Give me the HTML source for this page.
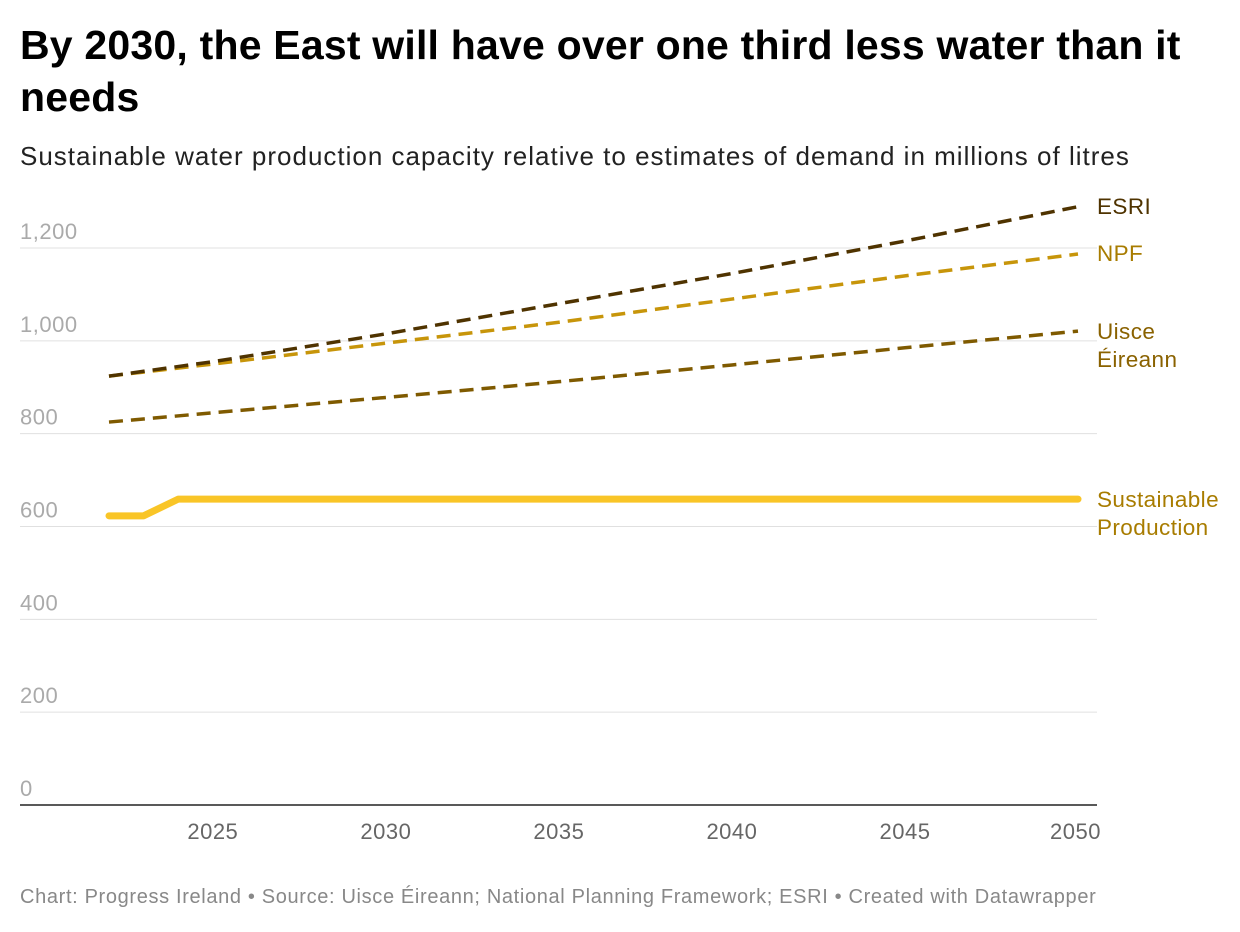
<!DOCTYPE html>
<html><head><meta charset="utf-8"><style>
body{margin:0;background:#fff;font-family:"Liberation Sans",sans-serif;width:1240px;height:932px;overflow:hidden;position:relative}
h1{position:absolute;left:20px;top:19px;margin:0;font-size:41px;letter-spacing:0.2px;line-height:52px;font-weight:bold;color:#000;width:1210px}
.sub{position:absolute;left:20px;top:141px;font-size:26px;letter-spacing:1px;color:#222;white-space:nowrap}
.foot{position:absolute;left:20px;top:886px;font-size:20px;letter-spacing:0.65px;color:#888;white-space:nowrap}
svg{position:absolute;left:0;top:0}
</style></head><body>
<h1>By 2030, the East will have over one third less water than it needs</h1>
<div class="sub">Sustainable water production capacity relative to estimates of demand in millions of litres</div>
<svg id="c" width="1240" height="932"></svg>
<div class="foot">Chart: Progress Ireland • Source: Uisce Éireann; National Planning Framework; ESRI • Created with Datawrapper</div>
<script>
const yTicks=[0,200,400,600,800,1000,1200];
const xTicks=[2025,2030,2035,2040,2045,2050];
const esriYears=[2022,2025,2030,2035,2040,2045,2050];
const esriVals=[924,955,1015,1080,1145,1215,1289];
const npfYears=[2022,2025,2030,2035,2040,2045,2050];
const npfVals=[924,950,995,1040,1090,1140,1187];
const uisceYears=[2022,2025,2030,2035,2040,2045,2050];
const uisceVals=[825,845,878,912,948,985,1021];
const prodYears=[2022,2023,2024,2050];
const prodVals=[623,623,659,659];
const NS="http://www.w3.org/2000/svg";
const svg=document.getElementById('c');
const x=v=>109+(v-2022)*(1078-109)/28;
const y=v=>805-v*(805-248)/1200;
function el(t,a){const e=document.createElementNS(NS,t);for(const k in a)e.setAttribute(k,a[k]);svg.appendChild(e);return e;}
yTicks.forEach(t=>{
 if(t>0){const g=el('line',{x1:20,x2:1097,y1:y(t),y2:y(t),stroke:'#e0e0e0','stroke-width':1});
 
 }
 const l=el('text',{x:20,y:y(t)-9,'font-size':22,'letter-spacing':0.5,fill:'#aaa'});l.textContent=t.toLocaleString('en-US');
 
 
});
const ax=el('line',{x1:20,x2:1097,y1:805,y2:805,stroke:'#222','stroke-width':1.5});


xTicks.forEach(t=>{const l=el('text',{x:x(t),y:839,'font-size':22,'letter-spacing':0.5,fill:'#666','text-anchor':t===2050?'end':'middle'});
 if(t===2050)l.setAttribute('x',1101);
 l.textContent=t;
 
 });
function series(xs,vs,color,w,dash,name){
 const p=el('polyline',{points:xs.map((v,i)=>x(v)+','+y(vs[i])).join(' '),fill:'none',stroke:color,'stroke-width':w,'stroke-dasharray':dash,'stroke-linecap':dash?'butt':'round','stroke-linejoin':'round'});
 
 }
series(uisceYears,uisceVals,'#7f5a00',3.5,'14 8','uisce-line');
series(npfYears,npfVals,'#c7950a',3.5,'14 8','npf-line');
series(esriYears,esriVals,'#4f3300',3.5,'14 8','esri-line');
series(prodYears,prodVals,'#f9c527',7,null,'production-line');
function lab(lines,yy,color,name){lines.forEach((s,i)=>{const t=el('text',{x:1097,y:yy+i*28,'font-size':22.5,'letter-spacing':0.4,fill:color});t.textContent=s;
 
 });}
lab(['ESRI'],214,'#4f3300','esri-label');
lab(['NPF'],261,'#a87c00','npf-label');
lab(['Uisce','Éireann'],339,'#8a6200','uisce-label');
lab(['Sustainable','Production'],507,'#a87c00','production-label');
</script>
</body></html>
